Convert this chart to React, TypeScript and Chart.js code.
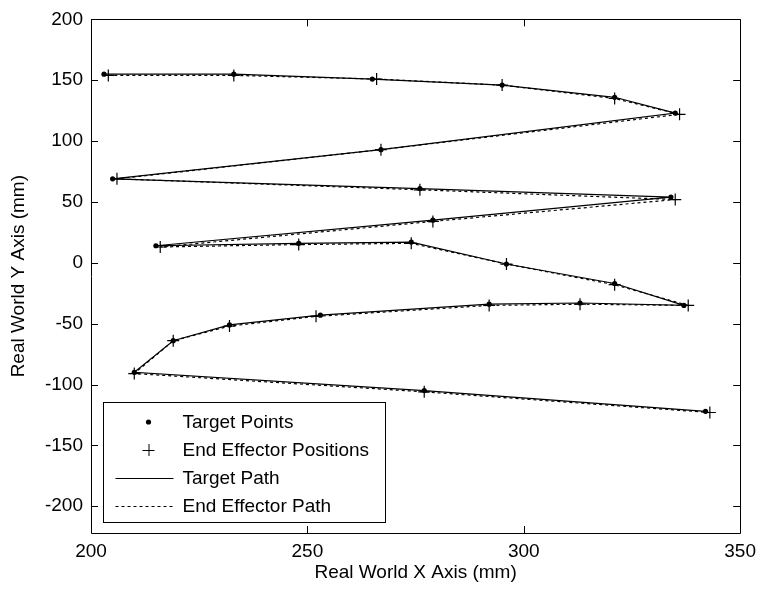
import { useEffect, useRef } from "react";
import { Chart, registerables } from "chart.js";

Chart.register(...registerables);

const FONT = '"Liberation Sans", Arial, Helvetica, sans-serif';
const FONT_SIZE = 19;

// Target trajectory (mm)
const targetX = [203, 233, 265, 295, 321, 335, 267, 205, 276, 334, 279, 215, 248, 274, 296, 321, 337, 313, 292, 253, 232, 219, 210, 277, 342];
const targetY = [155, 155, 151, 146, 136, 123, 93, 69, 61, 54, 35, 14, 16, 17, -1, -17, -35, -33, -34, -43, -51, -64, -90, -105, -122];

// Measured end effector positions (mm)
const effectorX = [204, 233, 266, 295, 321, 336, 267, 206, 276, 335, 279, 216, 248, 274, 296, 321, 338, 313, 292, 252, 232, 219, 210, 277, 343];
const effectorY = [154, 154, 151, 146, 135, 122, 93, 69, 60, 52, 34, 13, 15, 16, -1, -18, -35, -34, -35, -44, -52, -64, -91, -106, -123];

const xTicks = [200, 250, 300, 350];
const yTicks = [-200, -150, -100, -50, 0, 50, 100, 150, 200];
const xRange = [200, 350];
const yRange = [-222, 200];

const legendLabels = ["Target Points", "End Effector Positions", "Target Path", "End Effector Path"];

const toPoints = (xs: number[], ys: number[]) => xs.map((x, i) => ({ x, y: ys[i] }));

// Box around the plot area with inward ticks on all four sides
const framePlugin = {
  id: "frame",
  afterDatasetsDraw(chart: any) {
    const { ctx, chartArea: a, scales } = chart;
    const len = 7;
    ctx.save();
    ctx.strokeStyle = "#000";
    ctx.lineWidth = 1;
    ctx.beginPath();
    ctx.rect(Math.round(a.left) + 0.5, Math.round(a.top) + 0.5, Math.round(a.right - a.left), Math.round(a.bottom - a.top));
    for (const v of xTicks) {
      const px = Math.round(scales.x.getPixelForValue(v)) + 0.5;
      ctx.moveTo(px, a.bottom);
      ctx.lineTo(px, a.bottom - len);
      ctx.moveTo(px, a.top);
      ctx.lineTo(px, a.top + len);
    }
    for (const v of yTicks) {
      const py = Math.round(scales.y.getPixelForValue(v)) + 0.5;
      ctx.moveTo(a.left, py);
      ctx.lineTo(a.left + len, py);
      ctx.moveTo(a.right, py);
      ctx.lineTo(a.right - len, py);
    }
    ctx.stroke();
    ctx.restore();
  },
};

// Boxed legend in the lower-left corner of the plot
const legendPlugin = {
  id: "boxLegend",
  afterDraw(chart: any) {
    const { ctx, chartArea: a } = chart;
    const left = a.left + 12.5;
    const top = 402.5;
    const w = 282;
    const h = 120;
    ctx.save();
    ctx.fillStyle = "#fff";
    ctx.strokeStyle = "#000";
    ctx.lineWidth = 1;
    ctx.fillRect(left, top, w, h);
    ctx.strokeRect(left, top, w, h);

    const rowY = [422, 450, 478, 506];
    const markX = left + 45;
    const lineX0 = left + 12;
    const lineX1 = left + 70;
    const textX = left + 79;

    // dot
    ctx.fillStyle = "#000";
    ctx.beginPath();
    ctx.arc(markX, rowY[0], 2.6, 0, Math.PI * 2);
    ctx.fill();
    // plus
    ctx.beginPath();
    ctx.moveTo(markX - 6, rowY[1] + 0.5);
    ctx.lineTo(markX + 6, rowY[1] + 0.5);
    ctx.moveTo(markX + 0.5, rowY[1] - 6);
    ctx.lineTo(markX + 0.5, rowY[1] + 6);
    ctx.stroke();
    // solid line
    ctx.beginPath();
    ctx.moveTo(lineX0, rowY[2] + 0.5);
    ctx.lineTo(lineX1, rowY[2] + 0.5);
    ctx.stroke();
    // dashed line
    ctx.setLineDash([3, 3]);
    ctx.beginPath();
    ctx.moveTo(lineX0, rowY[3] + 0.5);
    ctx.lineTo(lineX1, rowY[3] + 0.5);
    ctx.stroke();
    ctx.setLineDash([]);

    ctx.font = `${FONT_SIZE}px ${FONT}`;
    ctx.textAlign = "left";
    ctx.textBaseline = "middle";
    legendLabels.forEach((t, i) => ctx.fillText(t, textX, rowY[i] + 1));
    ctx.restore();
  },
};

export default function App() {
  const ref = useRef<HTMLCanvasElement | null>(null);

  useEffect(() => {
    document.body.style.margin = "0";
    const canvas = ref.current;
    if (!canvas) return;
    const chart = new Chart(canvas, {
      type: "scatter",
      data: {
        datasets: [
          {
            label: legendLabels[2],
            data: toPoints(targetX, targetY),
            showLine: true,
            borderColor: "#000",
            borderWidth: 1.2,
            pointRadius: 0,
            tension: 0,
          },
          {
            label: legendLabels[3],
            data: toPoints(effectorX, effectorY),
            showLine: true,
            borderColor: "#000",
            borderWidth: 1.2,
            borderDash: [3, 3],
            pointRadius: 0,
            tension: 0,
          },
          {
            label: legendLabels[0],
            data: toPoints(targetX, targetY),
            showLine: false,
            pointStyle: "circle",
            pointRadius: 2.6,
            backgroundColor: "#000",
            borderColor: "#000",
            borderWidth: 0,
          },
          {
            label: legendLabels[1],
            data: toPoints(effectorX, effectorY),
            showLine: false,
            pointStyle: "cross",
            pointRadius: 6,
            borderColor: "#000",
            borderWidth: 1.2,
          },
        ],
      },
      options: {
        responsive: false,
        animation: false,
        devicePixelRatio: 1,
        layout: { padding: { top: 19, right: 19, left: 0, bottom: 0 } },
        plugins: {
          legend: { display: false },
          tooltip: { enabled: false },
        },
        scales: {
          x: {
            type: "linear",
            min: xRange[0],
            max: xRange[1],
            afterBuildTicks: (s: any) => {
              s.ticks = xTicks.map((value) => ({ value }));
            },
            afterFit: (s: any) => {
              s.height = 58;
            },
            grid: { display: false, drawTicks: false },
            border: { display: false },
            ticks: {
              color: "#000",
              padding: 7,
              maxRotation: 0,
              font: { family: FONT, size: FONT_SIZE },
            },
            title: {
              display: true,
              text: "Real World X Axis (mm)",
              color: "#000",
              font: { family: FONT, size: FONT_SIZE },
              padding: { top: 0, bottom: 7 },
            },
          },
          y: {
            type: "linear",
            min: yRange[0],
            max: yRange[1],
            afterBuildTicks: (s: any) => {
              s.ticks = yTicks.map((value) => ({ value }));
            },
            afterFit: (s: any) => {
              s.width = 91;
            },
            grid: { display: false, drawTicks: false },
            border: { display: false },
            ticks: {
              color: "#000",
              padding: 8,
              font: { family: FONT, size: FONT_SIZE },
            },
            title: {
              display: true,
              text: "Real World Y Axis (mm)",
              color: "#000",
              font: { family: FONT, size: FONT_SIZE },
              padding: { top: 7, bottom: 0 },
            },
          },
        },
      },
      plugins: [framePlugin, legendPlugin],
    });
    return () => chart.destroy();
  }, []);

  return (
    <div style={{ width: 763, height: 591, background: "#fff" }}>
      <canvas ref={ref} width={763} height={591} />
    </div>
  );
}
